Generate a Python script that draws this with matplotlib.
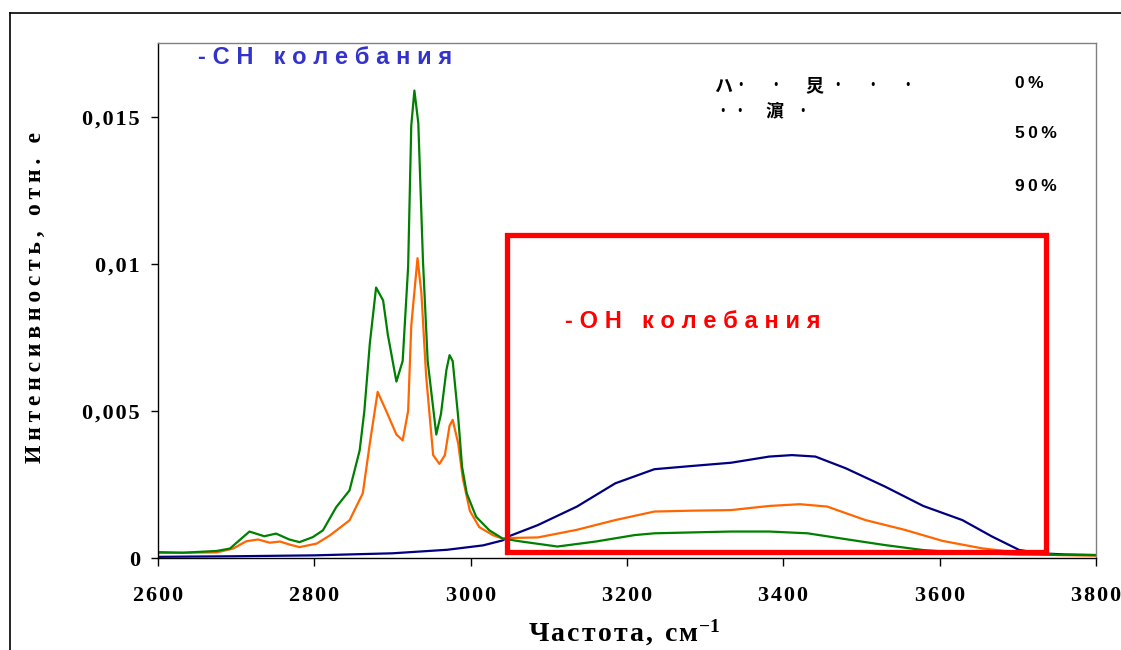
import matplotlib
matplotlib.use("Agg")
import matplotlib.pyplot as plt
from matplotlib.patches import Rectangle
from matplotlib.lines import Line2D

# ---------------- data ----------------
x_0 = [2600, 2700, 2800, 2900, 2970, 3016, 3041, 3050, 3086, 3136, 3185, 3235, 3283,
       3333, 3382, 3411, 3441, 3480, 3530, 3579, 3629, 3667, 3702, 3730, 3760, 3800]
y_0 = [0.00004, 0.00006, 0.00009, 0.00016, 0.00028, 0.00043, 0.0006, 0.00075, 0.00112,
       0.00175, 0.00254, 0.00302, 0.00313, 0.00324, 0.00345, 0.0035, 0.00345, 0.00305,
       0.00243, 0.00177, 0.00129, 0.00073, 0.00027, 0.00016, 0.00012, 0.0001]

x_50 = [2600, 2675, 2696, 2713, 2728, 2743, 2756, 2768, 2781, 2803, 2820, 2845, 2862,
        2871, 2881, 2892, 2905, 2913, 2920, 2924, 2932, 2937, 2943, 2952, 2960, 2967,
        2973, 2977, 2984, 2990, 2999, 3011, 3029, 3041, 3050, 3086, 3136, 3185, 3235,
        3283, 3333, 3382, 3421, 3456, 3505, 3555, 3604, 3654, 3702, 3750, 3800]
y_50 = [0.00017, 0.00019, 0.00032, 0.00057, 0.00063, 0.00052, 0.00056, 0.00046, 0.00037,
        0.00049, 0.00077, 0.00128, 0.0022, 0.0039, 0.00565, 0.0050, 0.0042, 0.0040,
        0.0050, 0.0079, 0.0102, 0.0090, 0.0062, 0.0035, 0.0032, 0.0035, 0.0045, 0.0047,
        0.0039, 0.0027, 0.0016, 0.00105, 0.00077, 0.00066, 0.00068, 0.00070, 0.00096,
        0.00129, 0.00158, 0.00161, 0.00163, 0.00177, 0.00183, 0.00175, 0.00129, 0.00096,
        0.00058, 0.00033, 0.00018, 0.0001, 0.00008]

x_90 = [2600, 2632, 2675, 2692, 2704, 2717, 2736, 2751, 2768, 2781, 2798, 2811, 2828,
        2845, 2858, 2864, 2871, 2879, 2888, 2894, 2905, 2913, 2920, 2924, 2928, 2933,
        2939, 2945, 2956, 2962, 2969, 2973, 2977, 2984, 2989, 2995, 3007, 3024, 3041, 3065,
        3111, 3160, 3210, 3235, 3283, 3333, 3382, 3431, 3480, 3530, 3579, 3629, 3700, 3800]
y_90 = [0.0002, 0.00018, 0.00024, 0.00032, 0.0006, 0.0009, 0.00074, 0.00083, 0.00063,
        0.00054, 0.00071, 0.00094, 0.00173, 0.0023, 0.00366, 0.0050, 0.0073, 0.0092,
        0.00876, 0.0076, 0.0060, 0.0067, 0.0099, 0.0147, 0.0159, 0.0148, 0.0101, 0.0067,
        0.0042, 0.0049, 0.0064, 0.0069, 0.0067, 0.0048, 0.0031, 0.0022, 0.0014, 0.00094,
        0.00066, 0.00056, 0.00039, 0.00056, 0.00078, 0.00084, 0.00087, 0.0009, 0.0009,
        0.00084, 0.00064, 0.00044, 0.00027, 0.00018, 0.00012, 0.0001]

series_labels = ["0%", "50%", "90%"]
series_colors = ["#000080", "#FF6600", "#008000"]

x_ticks = [2600, 2800, 3000, 3200, 3400, 3600, 3800]
y_ticks = [0, 0.005, 0.01, 0.015]
y_tick_labels = ["0", "0,005", "0,01", "0,015"]

oh_box = (3047, 0.0002, 3736, 0.01099)   # x0, y0, x1, y1

x_title = "Частота, см"
y_title = "Интенсивность, отн. е"
ch_text = "-CH колебания"
oh_text = "-OH колебания"
legend_row1 = ["ハ", "·", "·", "炅", "·", "·", "·"]
legend_row2 = ["·", "·", "濵", "·"]

# ---------------- figure ----------------
W, H = 1121, 650
fig = plt.figure(figsize=(W / 100, H / 100), dpi=100)
fig.patch.set_facecolor("white")


def fx(px):
    return px / W


def fy(py):
    return 1 - py / H


def spaced(s, sep="\u2009"):
    return sep.join(s)


ax = fig.add_axes([fx(158), fy(558), (1096 - 158) / W, (558 - 43) / H])
ax.set_xlim(2600, 3800)
ax.set_ylim(0, (558 - 43) / 29400)

for xs, ys, c, lab in zip([x_0, x_50, x_90], [y_0, y_50, y_90], series_colors, series_labels):
    ax.plot(xs, ys, color=c, lw=1.6, label=lab, solid_joinstyle="round")

x0, y0, x1, y1 = oh_box
ax.add_patch(Rectangle((x0, y0), x1 - x0, y1 - y0, fill=False, edgecolor="#FF0000",
                       lw=3.8, joinstyle="miter", zorder=5))

serif = ["Liberation Serif", "DejaVu Serif"]
sans = ["Liberation Sans", "DejaVu Sans"]

ax.set_xticks(x_ticks)
ax.set_xticklabels([spaced(str(t), "\u200a") for t in x_ticks], family=serif,
                   fontweight="bold", fontsize=16)
ax.set_yticks(y_ticks)
ax.set_yticklabels([spaced(t, "\u200a") for t in y_tick_labels], family=serif,
                   fontweight="bold", fontsize=16)
ax.tick_params(axis="x", direction="out", length=6, width=1, pad=14, color="black")
ax.tick_params(axis="y", direction="out", length=5, width=1, pad=8, color="black")

for s in ["left", "bottom"]:
    ax.spines[s].set_color("black")
    ax.spines[s].set_linewidth(1.0)
for s in ["top", "right"]:
    ax.spines[s].set_color("#808080")
    ax.spines[s].set_linewidth(1.0)

# axis titles
plt.rcParams["mathtext.fontset"] = "custom"
plt.rcParams["mathtext.rm"] = "Liberation Serif:bold"
plt.rcParams["mathtext.it"] = "Liberation Serif:bold"
plt.rcParams["mathtext.default"] = "rm"
fig.text(fx(624), fy(633), spaced(x_title, "\u200a") + r"$^{-1}$", ha="center", va="center",
         family=serif, fontweight="bold", fontsize=20)
fig.text(fx(35), fy(297), spaced(y_title, "\u2009"), rotation=90, ha="center", va="center",
         family=serif, fontweight="bold", fontsize=17)

# annotations
fig.text(fx(198), fy(57), spaced(ch_text, "\u2009\u200a"), ha="left", va="center",
         family=sans, fontweight="bold", fontsize=17, color="#3333CC")
fig.text(fx(565), fy(321), spaced(oh_text, "\u2009\u200a"), ha="left", va="center",
         family=sans, fontweight="bold", fontsize=17, color="#FF0000")

# legend-like text block
cjk = ["Noto Sans CJK JP", "DejaVu Sans"]
row1_x = [723, 741, 776, 814, 838, 873, 908]
row2_x = [723, 740, 774, 803]
for ch, px in zip(legend_row1, row1_x):
    fig.text(fx(px), fy(86), ch, ha="center", va="center", family=cjk,
             fontweight="bold", fontsize=13)
for ch, px in zip(legend_row2, row2_x):
    fig.text(fx(px), fy(111), ch, ha="center", va="center", family=cjk,
             fontweight="bold", fontsize=13)
for lab, py in zip(series_labels, [84, 134, 186]):
    fig.text(fx(1015), fy(py), spaced(lab, "\u2009"), ha="left", va="center",
             family=sans, fontweight="bold", fontsize=12.5)

# outer frame
fig.add_artist(Line2D([fx(10), fx(10)], [fy(13), 0], color="black", lw=1.2))
fig.add_artist(Line2D([fx(10), 1], [fy(13), fy(13)], color="black", lw=1.2))

fig.savefig("out.png", dpi=100, facecolor="white")
